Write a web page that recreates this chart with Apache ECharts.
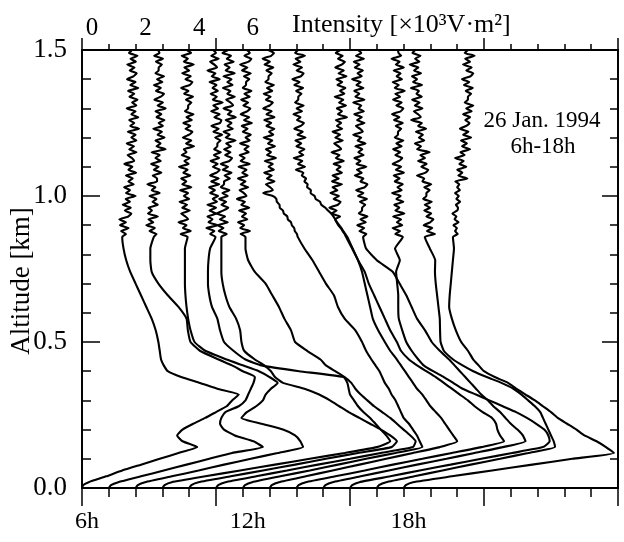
<!DOCTYPE html>
<html><head><meta charset="utf-8">
<script src="https://cdn.jsdelivr.net/npm/echarts@6/dist/echarts.min.js"></script>
<style>html,body{margin:0;padding:0;background:#fff}#c{width:624px;height:542px}</style>
</head><body><div id="c"></div>
<script>
// Altitude samples [km]
const ALT = [0,0.01,0.02,0.04,0.06,0.08,0.10,0.12,0.14,0.16,0.18,0.20,0.22,0.24,0.26,0.28,0.30,0.32,0.34,0.36,0.38,0.40,0.42,0.44,0.47,0.50,0.54,0.58,0.62,0.66,0.70,0.74,0.78,0.82,
 0.86,0.87,0.88,0.89,0.90,0.91,0.92,0.93,0.94,0.95,0.96,0.97,0.98,0.99,1.00,1.01,1.02,1.03,1.04,1.05,1.06,1.07,1.08,1.09,1.10,
 1.11,1.12,1.13,1.14,1.15,1.16,1.17,1.18,1.19,1.20,1.21,1.22,1.23,1.24,1.25,1.26,1.27,1.28,1.29,1.30,
 1.31,1.32,1.33,1.34,1.35,1.36,1.37,1.38,1.39,1.40,1.41,1.42,1.43,1.44,1.45,1.46,1.47,1.48,1.49,1.50];
// Hour of each profile
const HOURS = [6,7,8,9,10,11,12,13,14,15,16,17,18];
// Intensity profiles [x10^3 V m^2], one value per altitude sample
const I06 = [0,0.05,0.25,0.9,1.5,2.2,2.9,3.6,4.3,3.75,3.55,3.75,4.15,4.6,5.0,5.4,5.6,5.85,5.05,4.4,3.7,3.2,3.05,2.95,2.9,2.85,2.75,2.6,2.4,2.2,2.0,1.8,1.65,1.55,
 1.50,1.64,1.46,1.74,1.42,1.64,1.39,1.73,1.84,1.60,1.82,1.52,1.79,1.63,2.00,1.64,1.79,1.57,1.93,1.73,1.89,1.64,2.02,1.73,1.88,1.58,1.95,1.86,1.70,2.03,
 1.76,1.94,1.67,2.03,1.84,2.00,1.71,2.13,1.80,1.95,1.76,2.10,1.84,2.00,1.67,2.03,1.87,2.07,1.77,1.95,1.72,2.10,1.80,2.00,1.68,1.92,2.04,1.78,1.96,1.69,
 2.01,1.81,2.07,1.75,1.87];
const I07 = [0,0.08,0.35,1.2,2.05,2.9,3.75,4.6,5.75,5.4,4.7,4.3,4.15,4.2,4.35,4.85,5.1,5.2,5.3,5.4,5.45,5.0,4.6,4.1,3.4,3.05,2.95,2.9,2.6,2.2,1.85,1.6,1.55,1.55,
 1.68,1.78,1.52,1.72,1.40,1.66,1.48,1.83,1.46,1.61,1.48,1.83,1.63,1.78,1.52,1.90,1.60,1.74,1.44,1.80,1.80,1.64,1.96,1.68,1.86,1.58,1.94,1.74,1.90,1.60,
 2.12,1.78,1.93,1.74,2.08,1.82,1.98,1.66,2.02,1.86,2.08,1.78,1.96,1.74,2.12,1.82,2.02,1.70,1.94,2.06,1.76,1.94,1.68,2.00,1.80,2.06,1.74,1.86,1.86,1.98,
 1.76,2.02,1.69,1.89,1.84];
const I08 = [0,0.08,0.35,1.35,2.35,3.3,4.3,5.3,6.25,6.15,5.95,5.5,4.7,3.95,4.15,4.5,4.75,4.85,5.05,5.3,5.0,4.6,4.0,3.4,2.6,2.2,2.05,1.96,1.9,1.86,1.84,1.84,1.84,1.84,
 1.94,1.68,2.06,1.76,1.90,1.60,1.96,1.86,1.70,2.02,1.74,1.92,1.64,2.00,1.80,1.96,1.66,2.08,1.74,1.89,1.70,2.04,1.78,1.94,1.62,1.98,1.82,2.02,1.72,1.90,
 1.80,2.18,1.88,2.08,1.76,2.00,2.12,1.86,2.04,1.78,2.10,1.90,2.16,1.84,1.96,1.96,2.08,1.88,2.14,1.81,1.97,1.70,2.02,2.12,1.86,2.06,1.74,2.00,1.82,2.17,
 1.80,1.95,1.72,2.07,1.92];
const I09 = [0,0.08,0.35,1.6,2.9,4.2,5.5,6.8,8.0,8.5,8.35,8.15,7.95,7.75,7.5,7.3,7.15,7.0,6.95,6.9,6.75,5.1,3.7,3.1,2.65,2.3,2.15,2.05,1.85,1.75,1.7,1.7,1.72,1.78,
 1.98,1.78,1.94,1.64,2.06,1.72,1.87,1.68,2.02,1.76,2.00,1.68,2.04,1.88,2.08,1.78,1.96,1.74,2.12,1.82,2.10,1.78,2.02,2.14,1.88,2.06,1.80,2.12,1.92,2.18,
 1.93,2.05,2.05,2.17,1.97,2.23,1.90,2.10,1.83,2.15,2.20,1.94,2.14,1.82,2.08,1.90,2.25,1.88,2.03,1.80,2.07,1.87,2.02,1.76,2.14,1.84,1.98,1.68,2.04,1.94,
 1.78,2.10,1.82,2.00,1.89];
const I10 = [0,0.08,0.35,1.55,2.75,3.95,5.1,6.3,7.55,7.75,7.5,7.15,6.75,6.35,5.95,5.6,5.25,4.85,4.3,3.5,3.2,3.05,2.8,2.45,2.05,1.95,1.9,1.75,1.5,1.35,1.25,1.2,1.2,1.2,
 1.20,1.40,1.10,1.28,1.06,1.44,1.14,1.34,1.02,1.26,1.46,1.20,1.38,1.12,1.44,1.24,1.50,1.18,1.30,1.30,1.52,1.32,1.58,1.25,1.45,1.18,1.50,1.60,1.34,1.54,
 1.30,1.56,1.38,1.73,1.36,1.51,1.28,1.63,1.43,1.58,1.36,1.74,1.44,1.58,1.28,1.64,1.54,1.38,1.70,1.42,1.54,1.26,1.62,1.42,1.58,1.28,1.70,1.36,1.51,1.32,
 1.66,1.40,1.56,1.24,1.45];
const I11 = [0,0.08,0.35,1.5,2.65,3.8,5.0,6.15,7.35,7.45,7.25,7.0,6.75,6.5,6.2,5.9,5.65,5.4,5.2,5.05,4.8,4.45,4.1,3.9,3.4,2.95,2.8,2.55,2.35,2.1,1.85,1.45,1.2,1.1,
 1.10,0.92,1.27,0.90,1.05,0.82,1.17,0.97,1.12,0.86,1.24,0.94,1.08,0.78,1.14,1.04,0.88,1.20,0.92,1.10,0.82,1.18,0.98,1.14,0.84,1.26,0.92,1.07,0.88,1.22,
 1.06,1.22,0.90,1.26,1.10,1.30,1.00,1.18,0.96,1.34,1.04,1.24,0.92,1.16,1.28,1.02,1.20,0.94,1.26,1.06,1.32,1.00,1.12,1.12,1.24,1.04,1.30,0.97,1.17,0.90,
 1.22,1.32,1.06,1.26,1.16];
const I12 = [0,0.08,0.35,1.4,2.5,3.55,4.6,5.7,6.7,6.6,6.5,6.35,6.2,6.0,5.9,5.8,5.7,5.55,5.45,5.3,5.2,5.1,4.95,4.8,4.6,4.45,4.2,3.8,3.55,3.4,3.1,2.85,2.6,2.3,
 2.05,2.02,1.94,1.92,1.83,1.80,1.68,1.66,1.53,1.50,1.38,1.37,1.27,1.25,1.12,0.76,1.12,1.02,0.86,1.18,0.90,1.08,0.80,1.16,0.96,
 1.12,0.82,1.24,0.90,1.05,0.86,1.20,0.94,1.10,0.78,1.14,0.98,1.18,0.88,1.06,0.80,1.18,0.88,1.08,0.76,
 1.00,1.12,0.86,1.04,0.78,1.10,0.90,1.16,0.84,0.96,0.96,1.08,0.88,1.14,0.81,1.01,0.74,1.06,1.16,0.94];
const I13 = [0,0.08,0.35,1.35,2.35,3.35,4.35,5.35,6.35,7.0,6.85,6.7,6.55,6.4,6.2,6.0,5.85,5.7,5.5,5.35,5.2,5.05,4.9,4.75,4.5,4.3,4.05,3.85,3.75,3.65,3.55,3.45,3.3,3.1,
 2.90,2.82,2.75,2.68,2.60,2.52,2.45,2.38,2.30,2.18,2.08,1.93,1.88,1.72,1.68,1.53,1.54,1.40,1.42,1.30,1.36,1.20,1.26,0.98,1.32,
 1.06,1.22,0.90,1.26,1.10,1.30,1.00,1.18,0.96,1.34,1.04,1.24,0.92,1.16,1.28,1.02,1.15,0.89,1.21,1.01,
 1.27,0.95,1.07,1.07,1.19,0.99,1.25,0.92,1.12,0.85,1.17,1.27,1.01,1.21,0.89,1.15,0.97,1.32,0.95,1.06];
const I14 = [0,0.08,0.35,1.45,2.55,3.6,4.7,5.8,6.9,7.75,7.6,7.5,7.45,7.3,6.95,6.65,6.4,6.1,5.8,5.5,5.2,4.85,4.5,4.2,3.9,3.75,3.5,3.3,3.1,2.9,2.7,2.55,2.3,2.08,
 1.85,1.80,1.72,1.66,1.56,1.50,1.44,1.63,1.30,1.50,1.23,1.55,1.65,1.39,1.59,1.27,1.53,1.35,1.70,1.33,1.58,1.35,1.70,1.50,1.65,
 1.39,1.77,1.47,1.61,1.31,1.67,1.57,1.41,1.73,1.45,1.63,1.35,1.71,1.51,1.67,1.47,1.89,1.55,1.70,1.51,
 1.85,1.59,1.75,1.43,1.79,1.63,1.83,1.53,1.71,1.49,1.87,1.57,1.77,1.45,1.69,1.81,1.55,1.73,1.47,1.63];
const I15 = [0,0.08,0.35,1.4,2.45,3.5,4.6,5.65,6.7,7.55,7.45,7.25,7.0,6.8,6.6,6.35,6.15,5.9,5.7,5.5,5.3,5.1,4.9,4.7,4.35,4.05,3.8,3.5,3.3,3.1,2.85,2.6,2.0,1.6,
 1.49,1.61,1.35,1.53,1.27,1.59,1.39,1.65,1.33,1.45,1.45,1.57,1.37,1.63,1.30,1.50,1.23,1.55,1.65,1.39,1.50,1.18,1.44,1.26,1.61,
 1.24,1.39,1.16,1.51,1.31,1.46,1.20,1.58,1.28,1.42,1.12,1.48,1.38,1.22,1.54,1.26,1.44,1.16,1.52,1.32,
 1.42,1.12,1.54,1.20,1.35,1.16,1.50,1.24,1.40,1.08,1.44,1.28,1.48,1.18,1.36,1.14,1.52,1.22,1.42,1.30];
const I16 = [0,0.08,0.35,1.5,2.6,3.75,4.9,6.05,7.2,7.45,7.4,7.25,6.95,6.6,6.2,5.7,5.2,4.7,4.2,3.85,3.5,3.1,2.75,2.55,2.3,2.1,1.95,1.82,1.8,1.8,1.76,1.72,1.86,1.68,
 1.97,1.69,1.87,1.59,1.95,1.75,1.91,1.61,2.03,1.69,1.84,1.65,1.99,1.73,1.89,1.57,1.93,1.77,1.97,1.67,1.85,1.63,2.01,1.71,1.91,
 1.59,1.83,1.95,1.69,1.87,1.61,1.93,1.73,1.99,1.67,1.79,1.79,1.91,1.71,1.97,1.64,1.84,1.57,1.89,1.99,
 1.73,1.93,1.61,1.87,1.69,2.04,1.67,1.82,1.59,1.94,1.74,1.89,1.63,2.01,1.71,1.85,1.55,1.91,1.81,1.79];
const I17 = [0,0.08,0.35,1.4,2.45,3.5,4.6,5.65,6.65,6.6,6.5,6.4,6.3,6.2,6.1,5.9,5.65,5.4,5.1,4.65,4.1,3.6,3.2,2.85,2.5,2.38,2.36,2.35,2.3,2.25,2.2,2.17,2.18,1.98,
 1.79,2.17,1.87,2.07,1.75,1.99,2.11,1.85,2.03,1.77,1.99,1.79,2.05,1.73,1.85,1.85,1.97,1.77,2.03,1.70,1.77,1.50,1.82,1.92,1.66,
 1.86,1.54,1.80,1.62,1.97,1.50,1.65,1.42,1.77,1.57,1.72,1.46,1.84,1.54,1.68,1.28,1.64,1.54,1.38,1.70,
 1.42,1.60,1.32,1.68,1.48,1.57,1.27,1.69,1.35,1.50,1.31,1.65,1.39,1.55,1.23,1.59,1.43,1.63,1.33,1.43];
const I18 = [0,0.08,0.35,1.8,3.3,4.8,6.3,7.85,7.55,7.2,6.75,6.45,6.1,5.75,5.5,5.2,4.9,4.55,4.2,3.9,3.4,3.0,2.8,2.6,2.4,2.15,1.95,1.8,1.7,1.72,1.76,1.8,1.84,1.88,
 1.84,2.02,1.92,1.99,1.86,2.05,1.90,1.97,1.82,2.00,2.03,1.95,2.11,1.97,2.06,1.92,2.10,2.00,2.08,1.93,2.38,2.04,2.19,2.00,2.34,
 2.08,2.24,1.92,2.28,2.12,2.48,2.18,2.36,2.14,2.52,2.22,2.42,2.10,2.34,2.46,2.30,2.48,2.22,2.54,2.34,
 2.60,2.28,2.40,2.40,2.52,2.32,2.58,2.25,2.45,2.18,2.50,2.60,2.34,2.54,2.22,2.48,2.30,2.65,2.28,2.40];
const PROFILES = [I06,I07,I08,I09,I10,I11,I12,I13,I14,I15,I16,I17,I18];
// Tick labels
const TOP_TICK_VALUES = [0,2,4,6];
const TOP_TICK_LABELS = ['0','2','4','6'];
const BOTTOM_TICK_VALUES = [0,6,12];
const BOTTOM_TICK_LABELS = ['6h','12h','18h'];
const Y_TICK_VALUES = [0,0.5,1.0,1.5];

const FONT = '"Liberation Serif","Times New Roman",serif';
function idx(v, arr){ return arr.findIndex(a => Math.abs(a - v) < 1e-6); }

const chart = echarts.init(document.getElementById('c'), null, {renderer:'canvas'});
const lineC = {color:'#000', width:1.8};
const tickC = {color:'#000', width:1.5};
function xa(o){ return Object.assign({type:'value', min:0, max:20, splitLine:{show:false},
  axisLine:{show:true, onZero:false, lineStyle:lineC}}, o); }
function ya(o){ return Object.assign({type:'value', min:0, max:1.5, splitLine:{show:false},
  axisLine:{show:true, onZero:false, lineStyle:lineC}}, o); }

const series = PROFILES.map((prof, k) => ({
  type:'line', name: HOURS[k] + 'h', xAxisIndex:0, yAxisIndex:0,
  data: ALT.map((a, i) => [(HOURS[k] - HOURS[0]) + prof[i], a]),
  showSymbol:false, symbol:'none', smooth:0.15, clip:true, silent:true,
  lineStyle:{color:'#000', width:2.1}
}));

chart.setOption({
  animation:false,
  backgroundColor:'#fff',
  grid:{left:82, right:6, top:50, bottom:54, containLabel:false, outerBoundsMode:'none'},
  xAxis:[
    xa({position:'bottom', interval:1, axisTick:{show:true, length:9, lineStyle:tickC},
      axisLabel:{show:true, margin:22, color:'#000', fontFamily:FONT, fontSize:24, padding:[0,0,0,10],
        formatter: v => { const i = idx(v, BOTTOM_TICK_VALUES); return i >= 0 ? BOTTOM_TICK_LABELS[i] : ''; }}}),
    xa({position:'bottom', interval:5, axisTick:{show:true, length:18, lineStyle:tickC}, axisLabel:{show:false}}),
    xa({position:'top', interval:1, axisTick:{show:true, length:6, lineStyle:tickC},
      axisLabel:{show:true, margin:9, color:'#000', fontFamily:FONT, fontSize:25, padding:[0,0,0,20],
        formatter: v => { const i = idx(v, TOP_TICK_VALUES); return i >= 0 ? TOP_TICK_LABELS[i] : ''; }}}),
    xa({position:'top', interval:5, axisTick:{show:true, length:12, lineStyle:tickC}, axisLabel:{show:false}})
  ],
  yAxis:[
    ya({position:'left', interval:0.1, axisTick:{show:true, inside:true, length:9, lineStyle:tickC},
      axisLabel:{show:true, margin:15, color:'#000', fontFamily:FONT, fontSize:27,
        formatter: v => idx(v, Y_TICK_VALUES) >= 0 ? v.toFixed(1) : ''}}),
    ya({position:'left', interval:0.5, axisTick:{show:true, inside:true, length:18, lineStyle:tickC}, axisLabel:{show:false}}),
    ya({position:'right', interval:0.1, axisTick:{show:true, inside:true, length:8, lineStyle:tickC}, axisLabel:{show:false}}),
    ya({position:'right', interval:0.5, axisTick:{show:true, inside:true, length:16, lineStyle:tickC}, axisLabel:{show:false}})
  ],
  graphic:[
    {type:'text', x:292, y:25, style:{text:'Intensity [×10³V·m²]', font:'26px ' + FONT, fill:'#000',
      align:'left', verticalAlign:'middle', textAlign:'left', textVerticalAlign:'middle'}},
    {type:'text', x:22, y:281, rotation:Math.PI/2, style:{text:'Altitude [km]', font:'27px ' + FONT, fill:'#000',
      align:'center', verticalAlign:'middle', textAlign:'center', textVerticalAlign:'middle'}},
    {type:'text', x:542, y:121, style:{text:'26 Jan. 1994', font:'23px ' + FONT, fill:'#000',
      align:'center', verticalAlign:'middle', textAlign:'center', textVerticalAlign:'middle'}},
    {type:'text', x:543, y:147, style:{text:'6h-18h', font:'23px ' + FONT, fill:'#000',
      align:'center', verticalAlign:'middle', textAlign:'center', textVerticalAlign:'middle'}}
  ],
  series: series
});
</script>
</body></html>
